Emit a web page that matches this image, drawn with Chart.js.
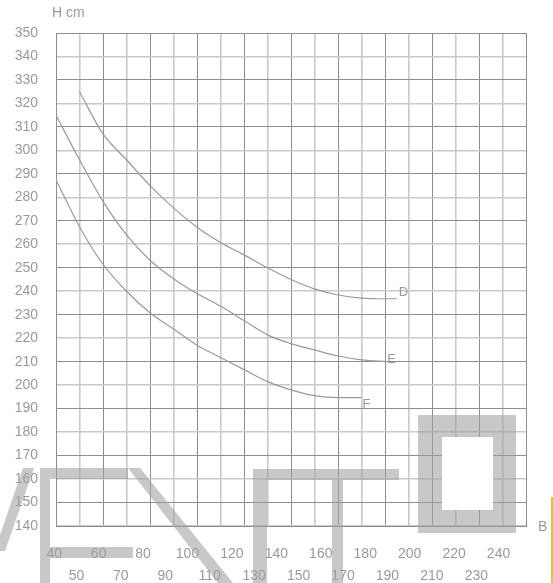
<!DOCTYPE html>
<html>
<head>
<meta charset="utf-8">
<script src="https://cdn.jsdelivr.net/npm/chart.js@4.4.1/dist/chart.umd.min.js"></script>
<style>
  body { margin: 0; background: #fff; }
  #grafico { display: block; }
</style>
</head>
<body>
<canvas id="grafico" width="553" height="583"></canvas>
<script>
// Curves (B on x, H cm on y)
const xD = [50, 60, 70, 80, 90, 100, 110, 120, 130, 140, 150, 160, 170, 180, 185];
const yD = [325, 307, 296, 285, 275.5, 267.3, 260.8, 255.5, 250, 245, 241, 238.4, 237.1, 236.8, 236.8];
const xE = [40, 50, 60, 70, 80, 90, 100, 110, 120, 130, 140, 150, 160, 170, 181];
const yE = [315, 296, 278.3, 264, 253.2, 245.3, 239, 233.7, 227.5, 221.4, 217.7, 215, 212.4, 210.8, 210];
const xF = [40, 50, 60, 70, 80, 90, 100, 110, 120, 130, 140, 150, 160, 170];
const yF = [287.5, 267.5, 251.5, 240, 230.8, 223.9, 217, 211.8, 206.6, 201.5, 198, 195.5, 194.7, 194.7];
const curveNames = ["D", "E", "F"];

// Axis labels
const xLabelsTop = [40, 60, 80, 100, 120, 140, 160, 180, 200, 220, 240];
const xLabelsBottom = [50, 70, 90, 110, 130, 150, 170, 190, 210, 230];
const yTitle = "H cm";
const xTitle = "B";

const txtColor = "#9a9a9a";
const lineColor = "#9a9a9a";
const darkGrid = "#8e8e8e";
const lightGrid = "#c9c9c9";
const fontFam = "'Liberation Sans', Arial, sans-serif";

function zip(xs, ys) {
	return xs.map((v, i) => ({ x: v, y: ys[i] }));
}

function curve(name, xs, ys) {
	return {
		label: name,
		data: zip(xs, ys),
		borderColor: lineColor,
		borderWidth: 1.2,
		pointRadius: 0,
		fill: false,
		cubicInterpolationMode: "monotone",
		xAxisID: "x",
		yAxisID: "y",
	};
}

// label axes are drawn a little compressed compared to the grid
function labelAxis(values, pad, h) {
	return {
		type: "linear",
		position: "bottom",
		min: 40.81,
		max: 252.36,
		grid: { display: false, drawTicks: false },
		border: { display: false },
		ticks: { autoSkip: false, maxRotation: 0, padding: pad, color: txtColor, font: { family: fontFam, size: 14 } },
		afterBuildTicks: (s) => {
			s.ticks = values.map((v) => ({ value: v }));
		},
		afterFit: (s) => {
			s.height = h;
		},
	};
}

// texts: H cm, B, curve names
const textos = {
	id: "textos",
	afterDatasetsDraw(chart) {
		const { ctx, chartArea, scales } = chart;
		ctx.save();
		ctx.fillStyle = txtColor;
		ctx.font = "14px " + fontFam;
		ctx.textBaseline = "middle";
		ctx.textAlign = "left";
		ctx.fillText(yTitle, chartArea.left - 4, chartArea.top - 20);
		ctx.fillText(xTitle, chartArea.right + 12, chartArea.bottom + 1);

		ctx.font = "13px " + fontFam;
		const offs = [[2, -6], [0, -2.5], [1, 6.5]];
		chart.data.datasets.forEach((ds, i) => {
			const last = ds.data[ds.data.length - 1];
			const px = scales.x.getPixelForValue(last.x);
			const py = scales.y.getPixelForValue(last.y);
			ctx.fillText(curveNames[i], px + offs[i][0], py + offs[i][1]);
		});
		ctx.restore();
	},
};

// grey logo behind the picture + yellow edge
const marca = {
	id: "marca",
	afterDraw(chart) {
		const ctx = chart.ctx;
		ctx.save();
		ctx.fillStyle = "rgba(160,160,165,0.58)";
		const poly = (pts) => {
			ctx.beginPath();
			ctx.moveTo(pts[0][0], pts[0][1]);
			pts.slice(1).forEach((p) => ctx.lineTo(p[0], p[1]));
			ctx.closePath();
			ctx.fill();
		};
		poly([[23, 468], [34, 468], [5, 551], [0, 551], [0, 535]]);
		ctx.fillRect(40, 468, 10, 115);
		ctx.fillRect(50, 468, 78, 11);
		poly([[128, 468], [140, 468], [233, 583], [218, 583]]);
		ctx.fillRect(50, 547, 83, 11);
		ctx.fillRect(253, 469, 14, 114);
		ctx.fillRect(267, 469, 132, 11);
		ctx.fillRect(332, 480, 11, 103);
		// O
		ctx.beginPath();
		ctx.rect(418, 415, 98, 118);
		ctx.rect(442, 437, 51, 73);
		ctx.fill("evenodd");
		ctx.fillStyle = "#fff";
		ctx.fillRect(442, 437, 51, 73);

		ctx.fillStyle = "#d2ca3c";
		ctx.fillRect(551, 497, 2, 86);
		ctx.restore();
	},
};

let grafico = new Chart(document.getElementById("grafico"), {
	type: "line",
	data: {
		datasets: [curve("D", xD, yD), curve("E", xE, yE), curve("F", xF, yF)],
	},
	options: {
		responsive: false,
		animation: false,
		layout: { padding: { top: 33, right: 27, left: 0, bottom: 0 } },
		plugins: { legend: { display: false }, tooltip: { enabled: false } },
		scales: {
			x: {
				type: "linear",
				position: "bottom",
				min: 40,
				max: 240,
				ticks: { stepSize: 10, display: false },
				grid: {
					drawTicks: false,
					color: (c) => ((c.tick.value / 10) % 2 === 0 ? darkGrid : lightGrid),
					lineWidth: (c) => ((c.tick.value / 10) % 2 === 0 ? 1 : 1.6),
				},
				border: { color: darkGrid, width: 1 },
			},
			y: {
				type: "linear",
				position: "left",
				min: 140,
				max: 350,
				ticks: { stepSize: 10, padding: 18, color: txtColor, font: { family: fontFam, size: 14 } },
				grid: {
					drawTicks: false,
					color: (c) => ((c.tick.value / 10) % 2 === 1 ? darkGrid : lightGrid),
					lineWidth: (c) => ((c.tick.value / 10) % 2 === 1 ? 1 : 1.6),
				},
				border: { color: darkGrid, width: 1 },
				afterFit: (s) => {
					s.width = 56;
				},
			},
			xa: labelAxis(xLabelsTop, 19.6, 36),
			xb: labelAxis(xLabelsBottom, 5.6, 21),
		},
	},
	plugins: [textos, marca],
});
</script>
</body>
</html>
